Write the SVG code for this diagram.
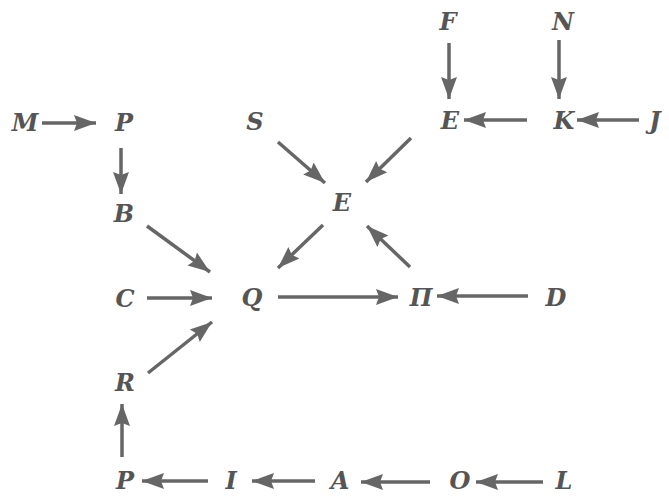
<svg xmlns="http://www.w3.org/2000/svg" width="669" height="496" viewBox="0 0 669 496">
<style>
text{font-family:"DejaVu Serif","Liberation Serif",serif;font-style:italic;font-weight:bold;font-size:24px;fill:#555;text-anchor:middle}
.c line{stroke:#666;stroke-width:3.5;marker-end:url(#ah)}
</style>
<defs>
<marker id="ah" markerUnits="userSpaceOnUse" markerWidth="24" markerHeight="18" refX="22" refY="8" orient="auto" viewBox="0 0 24 16">
<path d="M0,0 L22,8 L0,16 L3,8 Z" fill="#666"/>
</marker>
</defs>
<rect width="669" height="496" fill="#fff"/>
<g id="nM"><text x="25" y="131">M</text></g>
<g id="nP1"><text x="124" y="131">P</text></g>
<g id="nB"><text x="124" y="222">B</text></g>
<g id="nS"><text x="255" y="130">S</text></g>
<g id="nE1"><text x="450" y="129">E</text></g>
<g id="nK"><text x="564" y="129">K</text></g>
<g id="nJ"><text x="655" y="129">J</text></g>
<g id="nF"><text x="448" y="30">F</text></g>
<g id="nN"><text x="563" y="30">N</text></g>
<g id="nE2"><text x="342" y="211">E</text></g>
<g id="nC"><text x="125" y="307">C</text></g>
<g id="nQ"><text x="252" y="306">Q</text></g>
<g id="nPi"><text x="421" y="306">П</text></g>
<g id="nD"><text x="556" y="306">D</text></g>
<g id="nR"><text x="125" y="391">R</text></g>
<g id="nP2"><text x="125" y="489">P</text></g>
<g id="nI"><text x="231" y="489">I</text></g>
<g id="nA"><text x="340" y="489">A</text></g>
<g id="nO"><text x="460" y="489">O</text></g>
<g id="nL"><text x="564" y="489">L</text></g>
<g class="c" id="connectors">
<line x1="42" y1="123" x2="96" y2="123"/>
<line x1="121" y1="148" x2="121" y2="194"/>
<line x1="147" y1="226" x2="210" y2="272"/>
<line x1="278" y1="142" x2="325" y2="183"/>
<line x1="411" y1="138" x2="366" y2="182"/>
<line x1="323" y1="225" x2="278" y2="268"/>
<line x1="410" y1="267" x2="367" y2="226"/>
<line x1="449" y1="43" x2="449" y2="99"/>
<line x1="559" y1="40" x2="559" y2="99"/>
<line x1="527" y1="120" x2="464" y2="120"/>
<line x1="639" y1="120" x2="577" y2="120"/>
<line x1="147" y1="298" x2="212" y2="298"/>
<line x1="148" y1="373" x2="212" y2="322"/>
<line x1="278" y1="297" x2="398" y2="297"/>
<line x1="528" y1="296" x2="437" y2="296"/>
<line x1="122" y1="457" x2="122" y2="404"/>
<line x1="208" y1="481" x2="142" y2="481"/>
<line x1="315" y1="481" x2="252" y2="481"/>
<line x1="430" y1="482" x2="361" y2="482"/>
<line x1="543" y1="482" x2="476" y2="482"/>
</g>
</svg>
